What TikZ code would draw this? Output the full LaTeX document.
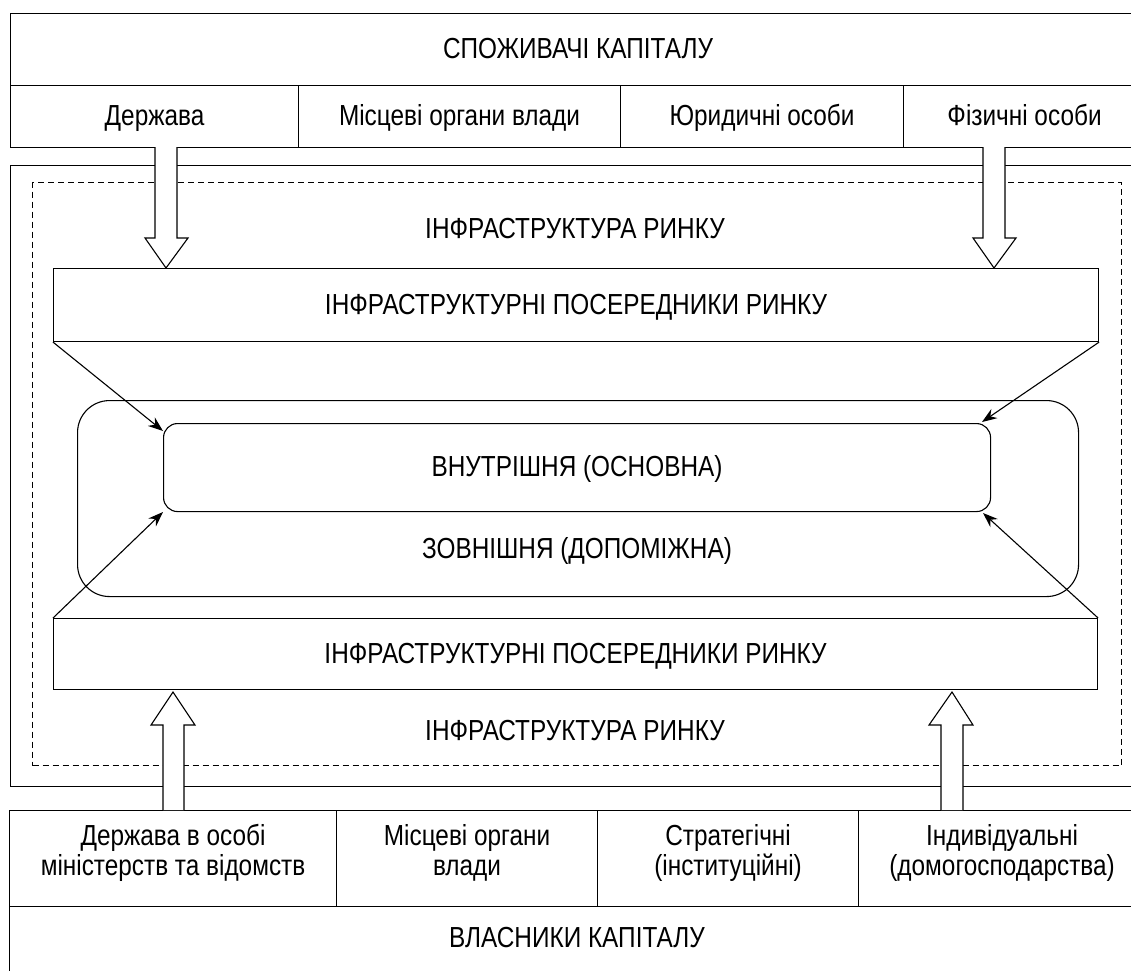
\documentclass[tikz,border=0pt]{standalone}
\usepackage{fontspec}
\setmainfont[FakeStretch=0.84]{Liberation Sans}
\usetikzlibrary{arrows.meta}
\newcommand{\lbl}{\fontsize{29}{30}\selectfont}
\begin{document}
\begin{tikzpicture}[x=1pt,y=-1pt,
  lw/.style={line width=1.1pt},
  cell/.style={draw, lw, anchor=north west, inner sep=0pt, align=center, font=\lbl,
    text height=21pt, text depth=3pt},
  twoline/.style={cell, text height=51pt, text depth=17pt},
  txt/.style={inner sep=0pt, align=center, font=\lbl, text height=21pt, text depth=3pt},
  frame/.style={draw, lw, anchor=north west, inner sep=0pt},
  dashframe/.style={draw, lw, anchor=north west, inner sep=0pt, dash pattern=on 6pt off 4pt},
  thinarrow/.style={lw, -{Stealth[length=15pt,width=11pt,inset=5pt]}},
  hollow/.style={draw, lw, fill=white, line join=miter}
]
\useasboundingbox (0,0) rectangle (1131,970);
\clip (0,0) rectangle (1131,970);

% consumers of capital
\node[cell, minimum width=1135pt, minimum height=72pt] (cons) at (10,13) {СПОЖИВАЧІ КАПІТАЛУ};
\node[cell, minimum width=288pt, minimum height=62pt] (c1) at (10,85) {Держава};
\node[cell, minimum width=322pt, minimum height=62pt] (c2) at (298,85) {Місцеві органи влади};
\node[cell, minimum width=283pt, minimum height=62pt] (c3) at (620,85) {Юридичні особи};
\node[cell, minimum width=242pt, minimum height=62pt] (c4) at (903,85) {Фізичні особи};

% market infrastructure frame
\node[frame, minimum width=1135pt, minimum height=621pt] (outer) at (10,165) {};
\node[dashframe, minimum width=1089pt, minimum height=583pt] (infra) at (32,182) {};
\node[txt] (infraT) at (575,229) {ІНФРАСТРУКТУРА РИНКУ};
\node[txt] (infraB) at (575,731) {ІНФРАСТРУКТУРА РИНКУ};

% intermediaries
\node[cell, minimum width=1045pt, minimum height=73pt] (upmed) at (53,268) {ІНФРАСТРУКТУРНІ ПОСЕРЕДНИКИ РИНКУ};
\node[cell, minimum width=1044pt, minimum height=71pt] (lowmed) at (53,618) {ІНФРАСТРУКТУРНІ ПОСЕРЕДНИКИ РИНКУ};

% external and internal parts
\node[frame, rounded corners=32pt, minimum width=1001pt, minimum height=196pt] (ext) at (77,400) {};
\node[txt] (extT) at (577,549) {ЗОВНІШНЯ (ДОПОМІЖНА)};
\node[cell, rounded corners=14pt, minimum width=827pt, minimum height=88pt] (int) at (163,423) {ВНУТРІШНЯ (ОСНОВНА)};

% owners of capital
\node[twoline, minimum width=327pt, minimum height=96pt] (o1) at (9,810) {Держава в особі\\міністерств та відомств};
\node[twoline, minimum width=261pt, minimum height=96pt] (o2) at (336,810) {Місцеві органи\\влади};
\node[twoline, minimum width=261pt, minimum height=96pt] (o3) at (597,810) {Стратегічні\\(інституційні)};
\node[twoline, minimum width=287pt, minimum height=96pt] (o4) at (858,810) {Індивідуальні\\(домогосподарства)};
\node[frame, minimum width=1136pt, minimum height=100pt] (own) at (9,906) {};
\node[txt] (ownT) at (577,938) {ВЛАСНИКИ КАПІТАЛУ};

% hollow arrows
\draw[hollow] (155,147) -- (155,238) -- (145,238) -- (166,268) -- (188,238) -- (177,238) -- (177,147);
\draw[hollow] (983,147) -- (983,238) -- (973,238) -- (994,268) -- (1016,238) -- (1005,238) -- (1005,147);
\draw[hollow] (163,810) -- (163,725) -- (151,725) -- (173,692) -- (195,725) -- (184,725) -- (184,810);
\draw[hollow] (941,810) -- (941,725) -- (929,725) -- (952,692) -- (973,725) -- (963,725) -- (963,810);

% thin arrows towards the internal part
\coordinate (tA) at (163,431);
\coordinate (tB) at (982,422);
\coordinate (tC) at (163,512);
\coordinate (tD) at (983,513);
\draw[thinarrow] (upmed.south west) -- (tA);
\draw[thinarrow] (upmed.south east) -- (tB);
\draw[thinarrow] (lowmed.north west) -- (tC);
\draw[thinarrow] (lowmed.north east) -- (tD);
\end{tikzpicture}
\end{document}
